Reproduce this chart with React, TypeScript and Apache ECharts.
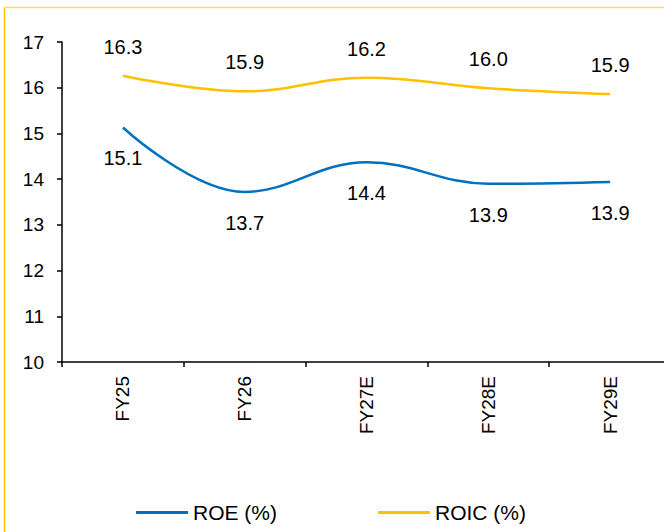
import React, { useEffect, useRef } from "react";
import * as echarts from "echarts";

const categories = ["FY25", "FY26", "FY27E", "FY28E", "FY29E"];
const roe = [15.13, 13.72, 14.37, 13.9, 13.94];
const roic = [16.26, 15.92, 16.22, 15.99, 15.86];
const yMin = 10;
const yMax = 17;

export default function App() {
  const ref = useRef<HTMLDivElement>(null);
  useEffect(() => {
    if (!ref.current) return;
    const chart = echarts.init(ref.current, undefined, { renderer: "svg" });
    const font = "'Liberation Sans', Arial, sans-serif";
    const fmt = (p: any) => Number(p.value).toFixed(1);
    chart.setOption({
      animation: false,
      backgroundColor: "#ffffff",
      textStyle: { fontFamily: font, color: "#000" },
      grid: { left: 62, top: 42, width: 609, height: 320, outerBoundsMode: "none", containLabel: false },
      graphic: [
        { type: "line", shape: { x1: 4.5, y1: 7.5, x2: 4.5, y2: 540 }, style: { stroke: "#FFC000", lineWidth: 1.5 } },
        { type: "line", shape: { x1: 4, y1: 7.5, x2: 670, y2: 7.5 }, style: { stroke: "#FFD966", lineWidth: 1.5 } },
      ],
      legend: {
        left: 131,
        top: 497,
        itemWidth: 52,
        itemHeight: 3,
        itemGap: 101,
        icon: "rect",
        textStyle: { fontFamily: font, fontSize: 21, color: "#000" },
        data: ["ROE (%)", "ROIC (%)"],
      },
      xAxis: {
        type: "category",
        data: categories,
        boundaryGap: true,
        axisLine: { lineStyle: { color: "#000", width: 1.5 } },
        axisTick: { show: true, length: 5, inside: false, lineStyle: { color: "#000", width: 1.5 } },
        axisLabel: { rotate: 90, margin: 14, fontSize: 19, color: "#000", fontFamily: font },
        splitLine: { show: false },
      },
      yAxis: {
        type: "value",
        min: yMin,
        max: yMax,
        interval: 1,
        axisLine: { show: true, lineStyle: { color: "#000", width: 1.5 } },
        axisTick: { show: true, length: 5, inside: false, lineStyle: { color: "#000", width: 1.5 } },
        axisLabel: { margin: 18, fontSize: 19, color: "#000", fontFamily: font },
        splitLine: { show: false },
      },
      series: [
        {
          name: "ROE (%)",
          type: "line",
          data: roe,
          smooth: 0.4,
          symbol: "circle",
          symbolSize: 0,
          showSymbol: true,
          lineStyle: { color: "#0070C0", width: 2.5 },
          itemStyle: { color: "#0070C0" },
          label: { show: true, position: "bottom", distance: 21, fontSize: 20, color: "#000", fontFamily: font, formatter: fmt },
        },
        {
          name: "ROIC (%)",
          type: "line",
          data: roic,
          smooth: 0.4,
          symbol: "circle",
          symbolSize: 0,
          showSymbol: true,
          lineStyle: { color: "#FFC000", width: 2.5 },
          itemStyle: { color: "#FFC000" },
          label: { show: true, position: "top", distance: 19, fontSize: 20, color: "#000", fontFamily: font, formatter: fmt },
        },
      ],
    });
    return () => chart.dispose();
  }, []);
  return <div ref={ref} style={{ position: "absolute", left: 0, top: 0, width: 664, height: 532 }} />;
}
